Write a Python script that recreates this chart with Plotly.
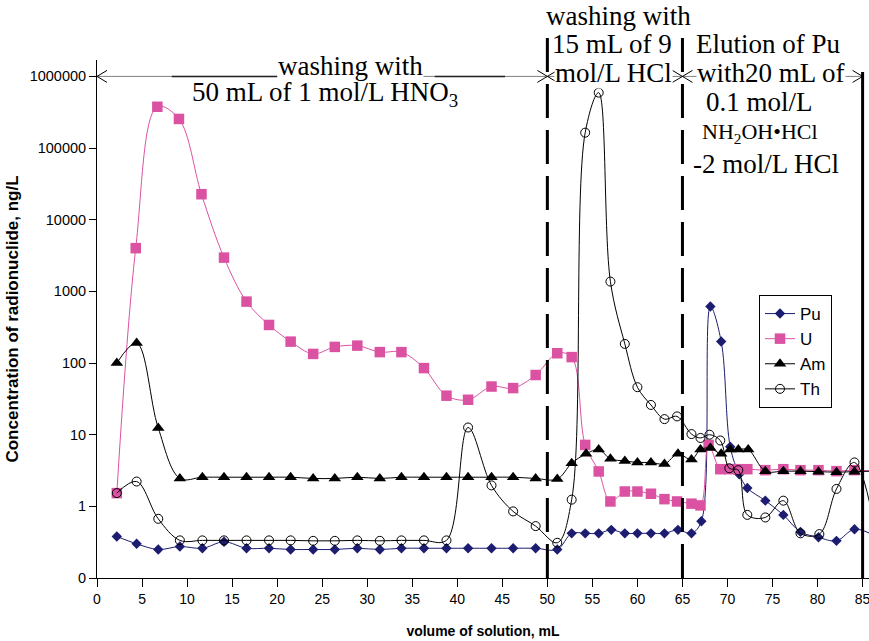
import plotly.graph_objects as go

# Fraction volumes (mL) and measured concentrations (ng/L) for each nuclide
pu_ml = [2.2, 4.4, 6.8, 9.2, 11.7, 14.1, 16.6, 19.1, 21.5, 24.0, 26.4, 28.9, 31.4, 33.8, 36.3, 38.8, 41.2, 43.8, 46.2, 48.7,
         51.1, 52.7, 54.2, 55.7, 57.1, 58.6, 60.0, 61.5, 63.0, 64.5, 66.0, 67.1, 68.1, 69.3, 70.3, 71.3, 72.2, 74.2, 76.2,
         78.1, 80.1, 82.1, 84.1, 86.5]
pu_conc = [0.38, 0.30, 0.25, 0.275, 0.26, 0.32, 0.26, 0.26, 0.25, 0.25, 0.25, 0.26, 0.25, 0.26, 0.26, 0.26, 0.26, 0.26,
           0.26, 0.26,
           0.25, 0.42, 0.42, 0.42, 0.47, 0.42, 0.42, 0.42, 0.42, 0.47, 0.42, 0.62, 614, 200, 6.8, 2.8, 1.8, 1.2, 0.76,
           0.44, 0.37, 0.33, 0.48, 0.38]

u_ml = [2.2, 4.3, 6.7, 9.1, 11.6, 14.1, 16.6, 19.1, 21.5, 24.0, 26.4, 28.9, 31.4, 33.8, 36.3, 38.8, 41.2, 43.8, 46.2, 48.7,
        51.1, 52.7, 54.2, 55.7, 57.0, 58.6, 60.0, 61.5, 63.0, 64.4, 66.0, 67.0, 67.9, 69.2, 70.2, 71.2, 72.2, 74.2, 76.2,
        78.1, 80.1, 82.1, 84.1, 86.5]
u_conc = [1.53, 4010, 377000, 255000, 22700, 2960, 720, 340, 199, 134, 168, 175, 142, 142, 85, 35, 30.7, 47, 44.7, 68,
          137, 121, 7.2, 3.07, 1.17, 1.61, 1.61, 1.5, 1.26, 1.17, 1.09, 1.03, 7.2, 3.3, 3.3, 3.3, 3.3, 3.2, 3.3, 3.2,
          3.2, 3.1, 3.2, 3.1]

am_ml = [2.2, 4.4, 6.8, 9.2, 11.7, 14.1, 16.6, 19.1, 21.5, 24.0, 26.4, 28.9, 31.4, 33.8, 36.3, 38.8, 41.2, 43.8, 46.2, 48.7,
         51.1, 52.7, 54.3, 55.7, 57.0, 58.6, 60.0, 61.5, 63.0, 64.5, 66.0, 67.0, 68.1, 69.3, 70.3, 71.2, 72.3, 74.2, 76.2,
         78.1, 80.1, 82.1, 84.1, 86.5]
am_conc = [100, 190, 12.4, 2.45, 2.55, 2.55, 2.55, 2.55, 2.55, 2.45, 2.45, 2.55, 2.45, 2.55, 2.55, 2.55, 2.55, 2.55, 2.55,
           2.45,
           2.4, 4.0, 5.4, 6.2, 4.6, 4.3, 4.1, 4.1, 3.9, 5.4, 4.5, 6.2, 6.5, 5.4, 6.2, 6.2, 6.2, 3.1, 3.1, 3.1, 3.05, 3.0,
           3.05, 3.1]

th_ml = [2.2, 4.4, 6.8, 9.2, 11.7, 14.1, 16.6, 19.1, 21.5, 24.0, 26.4, 28.9, 31.4, 33.8, 36.3, 38.8, 41.2, 43.8, 46.2, 48.7,
         51.1, 52.7, 54.2, 55.7, 57.0, 58.6, 60.0, 61.5, 63.0, 64.4, 66.0, 67.0, 68.0, 69.2, 70.2, 71.2, 72.2, 74.2, 76.2,
         78.1, 80.2, 82.1, 84.1, 86.5]
th_conc = [1.53, 2.22, 0.67, 0.335, 0.335, 0.335, 0.335, 0.335, 0.335, 0.33, 0.33, 0.335, 0.33, 0.335, 0.335, 0.335, 12.6,
           1.96, 0.85, 0.53,
           0.31, 1.24, 164000, 593000, 1370, 185, 46, 26, 16.5, 18, 10.2, 9, 10, 8.3, 3.4, 3.2, 0.76, 0.7, 1.2, 0.42,
           0.41, 1.75, 4.1, 0.4]

# Axis ticks
y_tick_vals = [0.1, 1, 10, 100, 1000, 10000, 100000, 1000000]
y_tick_text = ["0", "1", "10", "100", "1000", "10000", "100000", "1000000"]
x_tick_vals = list(range(0, 90, 5))

# Stage boundaries (mL) and the concentration level of the stage arrows
stage_edges = [0, 50, 65, 85]
arrow_level = 1000000

# ---- layout geometry ----
W, H = 869, 641
ML, MR, MT, MB = 97, 0, 60, 63
X_RANGE = [0, 85.71]
Y_RANGE_LOG = [-1, 6.229]
plot_w = W - ML - MR
plot_h = H - MT - MB
px_per_ml = plot_w / (X_RANGE[1] - X_RANGE[0])
px_per_dec = plot_h / (Y_RANGE_LOG[1] - Y_RANGE_LOG[0])


def paper_x(px):
    return (px - ML) / plot_w


def paper_y(py):
    return (H - MB - py) / plot_h


PU_COLOR = "#1c1c70"
U_COLOR = "#db52a3"
BLACK = "#000000"
SERIF = "Liberation Serif, Times New Roman, serif"
SANS = "Liberation Sans, Arial, sans-serif"

fig = go.Figure()

# ---- stage arrows along the top (drawn first so data sits above) ----
ARROW_GRAY = "#808080"
head_dx = 10 / px_per_ml
head_dy = 6 / px_per_dec


def add_line(xs, ys, color, width=1):
    fig.add_trace(go.Scatter(x=xs, y=ys, mode="lines", line=dict(color=color, width=width),
                             showlegend=False, hoverinfo="skip", cliponaxis=False))


for a, b in zip(stage_edges[:-1], stage_edges[1:]):
    add_line([a, b], [arrow_level, arrow_level], ARROW_GRAY)
    up = arrow_level * 10 ** head_dy
    dn = arrow_level / 10 ** head_dy
    add_line([a + head_dx, a, a + head_dx], [up, arrow_level, dn], BLACK)
    add_line([b - head_dx, b, b - head_dx], [up, arrow_level, dn], BLACK)

# darker stretches on the first arrow
add_line([8.3, 20.0], [arrow_level, arrow_level], "#222222", 1.5)
add_line([37.5, 45.3], [arrow_level, arrow_level], "#222222", 1.5)

# ---- data series ----
fig.add_trace(go.Scatter(
    x=pu_ml, y=pu_conc, name="Pu", mode="lines+markers",
    line=dict(color=PU_COLOR, width=1, shape="spline"),
    marker=dict(symbol="diamond", size=8, color=PU_COLOR)))
fig.add_trace(go.Scatter(
    x=u_ml, y=u_conc, name="U", mode="lines+markers",
    line=dict(color=U_COLOR, width=1, shape="spline"),
    marker=dict(symbol="square", size=10.5, color=U_COLOR)))
fig.add_trace(go.Scatter(
    x=am_ml, y=am_conc, name="Am", mode="lines+markers",
    line=dict(color=BLACK, width=1, shape="spline"),
    marker=dict(symbol="triangle-up", size=11, color=BLACK)))
fig.add_trace(go.Scatter(
    x=th_ml, y=th_conc, name="Th", mode="lines+markers",
    line=dict(color=BLACK, width=1, shape="spline"),
    marker=dict(symbol="circle-open", size=9, color=BLACK, line=dict(width=1, color=BLACK))))

# ---- stage separators ----
for edge, top_px, dash in [(50, 33, "34px,12px"), (65, 33, "34px,12px"), (85, 72, "solid")]:
    fig.add_shape(type="line", xref="x", yref="paper", x0=edge, x1=edge,
                  y0=0, y1=paper_y(top_px), line=dict(color=BLACK, width=3, dash=dash), layer="above")

# ---- stage labels: (text, centre x px, baseline px, size, white background) ----
labels = [
    ("washing with", 350, 75, 27, True),
    ("50 mL of 1 mol/L HNO<sub>3</sub>", 325, 103, 27, False),
    ("washing with", 618, 25, 27, False),
    ("15 mL of 9", 612, 53, 27, False),
    ("mol/L HCl", 613, 82, 27, True),
    ("Elution of Pu", 768, 53, 27, False),
    ("with20 mL of", 771, 82, 27, True),
    ("0.1 mol/L", 759, 111, 27, False),
    ("NH<sub>2</sub>OH•HCl", 760, 140, 22, False),
    ("-2 mol/L HCl", 766, 173, 27, False),
]
for text, cx, base, size, bg in labels:
    fig.add_annotation(
        text=text, xref="paper", yref="paper",
        x=paper_x(cx), y=paper_y(base - 0.3375 * size),
        xanchor="center", yanchor="middle", showarrow=False,
        font=dict(family=SERIF, size=size, color=BLACK),
        bgcolor="white" if bg else "rgba(0,0,0,0)", borderpad=0)

fig.update_layout(
    width=W, height=H,
    margin=dict(l=ML, r=MR, t=MT, b=MB, autoexpand=False),
    paper_bgcolor="white", plot_bgcolor="white",
    font=dict(family=SANS, color=BLACK),
    showlegend=True,
    legend=dict(
        x=paper_x(759), y=paper_y(295), xanchor="left", yanchor="top",
        bgcolor="white", bordercolor=BLACK, borderwidth=1,
        font=dict(family=SANS, size=17, color=BLACK),
        tracegroupgap=0, itemwidth=30),
    xaxis=dict(
        range=X_RANGE, tickvals=x_tick_vals, ticks="outside", ticklen=8, tickcolor=BLACK,
        showline=True, linecolor=BLACK, linewidth=1, showgrid=False, zeroline=False,
        tickfont=dict(family=SANS, size=14, color=BLACK), ticklabeloverflow="allow",
        title=dict(text="volume of solution, mL", font=dict(family=SANS, size=14, weight="bold"), standoff=20),
        automargin=False),
    yaxis=dict(
        type="log", range=Y_RANGE_LOG, tickvals=y_tick_vals, ticktext=y_tick_text,
        ticks="outside", ticklen=7, tickcolor=BLACK,
        showline=True, linecolor=BLACK, linewidth=1, showgrid=False, zeroline=False,
        tickfont=dict(family=SANS, size=14.5, color=BLACK),
        title=dict(text="Concentration of radionuclide, ng/L", font=dict(family=SANS, size=17, weight="bold"),
                   standoff=6),
        automargin=False),
)

fig.write_html("out.html")
